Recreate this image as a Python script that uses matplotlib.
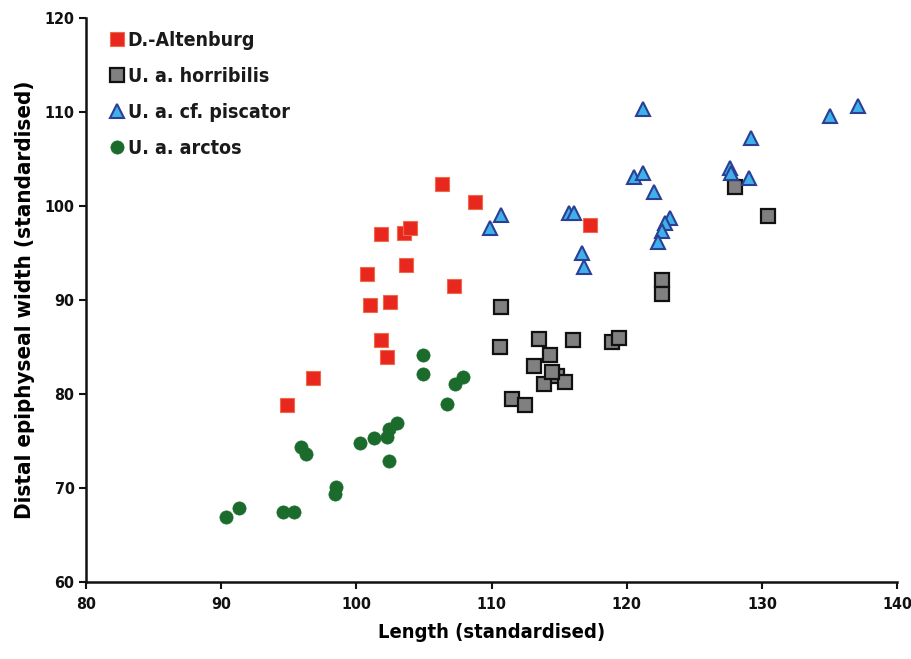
import matplotlib
matplotlib.use("Agg")
import matplotlib.pyplot as plt

plt.rcParams['font.family'] = ['DejaVu Sans']
plt.rcParams['font.stretch'] = 'condensed'

# D.-Altenburg
alt_len = [106.3, 108.8, 101.8, 103.5, 104.0, 103.7, 100.8, 107.2, 101.0, 102.5,
           101.8, 102.3, 96.8, 94.9, 117.3]
alt_wid = [102.3, 100.4, 97.0, 97.1, 97.6, 93.7, 92.8, 91.5, 89.4, 89.8,
           85.7, 83.9, 81.7, 78.8, 98.0]

# U. a. horribilis
hor_len = [110.7, 110.6, 113.5, 116.0, 118.9, 119.4, 114.3, 113.1, 114.8, 115.4,
           113.9, 111.5, 112.5, 122.6, 122.6, 128.0, 130.4, 114.5]
hor_wid = [89.2, 85.0, 85.8, 85.7, 85.5, 85.9, 84.1, 83.0, 81.9, 81.3,
           81.0, 79.5, 78.8, 92.1, 90.6, 102.0, 98.9, 82.3]

# U. a. cf. piscator
pis_len = [121.2, 120.5, 121.2, 122.0, 123.2, 122.8, 122.6, 122.3, 115.7, 116.1,
           116.7, 116.8, 110.7, 109.9, 129.2, 127.6, 127.7, 129.0, 135.0, 137.1]
pis_wid = [110.3, 103.1, 103.5, 101.5, 98.7, 98.2, 97.3, 96.2, 99.2, 99.2,
           95.0, 93.5, 99.0, 97.6, 107.2, 104.0, 103.5, 103.0, 109.6, 110.6]

# U. a. arctos
arc_len = [104.9, 104.9, 107.9, 107.3, 106.7, 103.0, 102.4, 102.3, 101.3, 100.3,
           102.4, 95.9, 96.3, 98.5, 98.4, 91.3, 90.4, 94.6, 95.4]
arc_wid = [84.1, 82.1, 81.8, 81.0, 78.9, 76.9, 76.3, 75.4, 75.3, 74.8,
           72.9, 74.4, 73.6, 70.1, 69.3, 67.9, 66.9, 67.4, 67.4]

x_ticks = [80, 90, 100, 110, 120, 130, 140]
y_ticks = [60, 70, 80, 90, 100, 110, 120]

fig = plt.figure(figsize=(9.12, 6.59), dpi=100)
ax = fig.add_axes([0.094, 0.117, 0.890, 0.856])

ax.plot(alt_len, alt_wid, ls='none', marker='s', ms=10.5, mfc='#e8281e',
        mec='#f06a4a', mew=0.8, label='D.-Altenburg', zorder=3)
ax.plot(hor_len, hor_wid, ls='none', marker='s', ms=9.5, mfc='#808080',
        mec='#111111', mew=1.6, label='U. a. horribilis', zorder=3)
ax.plot(pis_len, pis_wid, ls='none', marker='^', ms=10.5, mfc='#3eb0ea',
        mec='#2b3f95', mew=1.5, label='U. a. cf. piscator', zorder=3)
ax.plot(arc_len, arc_wid, ls='none', marker='o', ms=9.5, mfc='#1b6b2c',
        mec='#1b6b2c', mew=0.5, label='U. a. arctos', zorder=3)

ax.set_xlim(80, 140)
ax.set_ylim(60, 120)
ax.set_xticks(x_ticks)
ax.set_yticks(y_ticks)
ax.spines['top'].set_visible(False)
ax.spines['right'].set_visible(False)
for s in ('left', 'bottom'):
    ax.spines[s].set_linewidth(1.8)
    ax.spines[s].set_color('#111111')
ax.tick_params(axis='both', direction='out', length=5, width=1.5,
               labelsize=11.5, colors='#111111')
ax.tick_params(axis='y', pad=3)
ax.tick_params(axis='x', pad=6)
for lbl in ax.get_xticklabels() + ax.get_yticklabels():
    lbl.set_fontweight('bold')

ax.set_xlabel('Length (standardised)', fontsize=14.5, fontweight='bold', labelpad=8)
ax.set_ylabel('Distal epiphyseal width (standardised)', fontsize=16,
              fontweight='bold', labelpad=7)

leg = ax.legend(loc='upper left', bbox_to_anchor=(0.012, 0.998), frameon=False,
                fontsize=14, handletextpad=0.05, handlelength=1.0,
                labelspacing=0.88, borderaxespad=0.2)
for t in leg.get_texts():
    t.set_fontweight('bold')
    t.set_color('#1a1a1a')

fig.savefig('out.png', dpi=100, facecolor='white')
